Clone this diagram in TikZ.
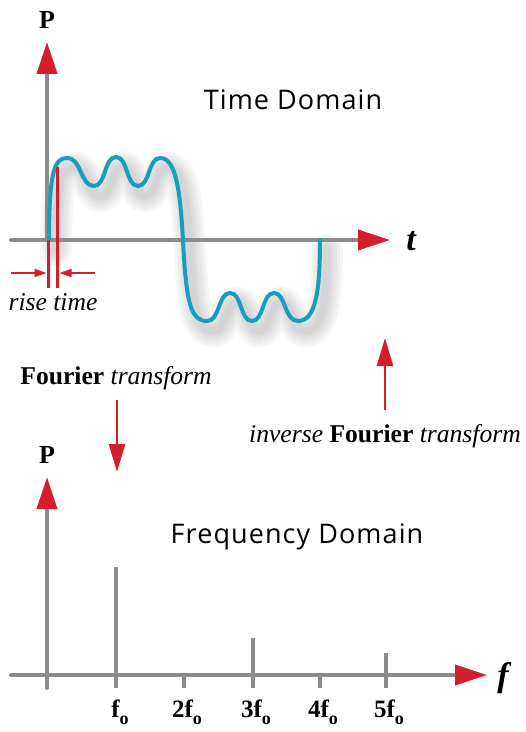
\documentclass[tikz,border=0pt]{standalone}
\usepackage{fontspec}
\setmainfont{Liberation Serif}
\setsansfont{Open Sans}
\newfontfamily\domfont[LetterSpace=4]{Open Sans}
\usetikzlibrary{arrows.meta}
\definecolor{axisgray}{RGB}{140,140,140}
\definecolor{tipred}{RGB}{214,30,42}
\definecolor{wavecyan}{RGB}{22,158,190}
\newcommand{\fsub}{f\raisebox{-3.5pt}{\fontsize{9}{9}\selectfont o}}
% square-ish wave with ringing, pixel coordinates
\newcommand{\wavepath}{(49,240) .. controls (49,170) and (55,158) .. (67,158)
  .. controls (82,158) and (80,186) .. (94,186)
  .. controls (106,186) and (104,157) .. (116,157)
  .. controls (128,157) and (126,186) .. (138,186)
  .. controls (150,186) and (148,158) .. (160,158)
  .. controls (176,158) and (180,190) .. (183,240)
  .. controls (186,300) and (190,321) .. (207,321)
  .. controls (220,321) and (218,293) .. (230,293)
  .. controls (242,293) and (240,321) .. (252,321)
  .. controls (264,321) and (262,293) .. (274,293)
  .. controls (286,293) and (284,321) .. (298,321)
  .. controls (316,321) and (320,290) .. (320,240)}

\begin{document}
\begin{tikzpicture}[x=0.5pt, y=-0.5pt, every node/.style={inner sep=0pt},
  axis/.style={draw=axisgray, line width=2pt, line cap=round, -{Triangle[length=16pt,width=10pt,color=tipred]}},
  bar/.style={draw=axisgray, line width=2pt},
  wave/.style={draw=wavecyan, line width=2pt, line cap=round},
  shade/.style={draw=black, line width=#1, opacity=0.035, line cap=round},
  redline/.style={draw=tipred, line width=1.1pt},
  redarr/.style={draw=tipred, line width=0.8pt, -{Triangle[length=6pt,width=4pt,color=tipred]}},
  trarr/.style={draw=tipred, line width=1.3pt, -{Triangle[length=14pt,width=8pt,color=tipred]}},
  dom/.style={font=\domfont\fontsize{13.5}{15}\selectfont},
  lbl/.style={font=\fontsize{12.8}{15}\selectfont},
  axlbl/.style={font=\fontsize{17}{18}\selectfont\bfseries\itshape},
  plbl/.style={font=\fontsize{13}{15}\selectfont\bfseries},
  tick/.style={font=\fontsize{12.5}{14}\selectfont\bfseries}]
\useasboundingbox (0,0) rectangle (525,732);

% time domain
\coordinate (tO) at (47,240);
\coordinate (tYtip) at (47,42);
\coordinate (tXl) at (11,240);
\coordinate (tXtip) at (390,240);
\node[plbl] (tP) at (47,20) {P};
\node[dom] (tdom) at (293,100) {Time Domain};
\node[axlbl, anchor=west] (tt) at (406,241) {t};
\foreach \w in {16pt,13pt,10pt,7pt,4pt}
  \draw[shade=\w, shift={(7,10)}] \wavepath;
\draw[axis] (tO) -- (tYtip);
\draw[axis] (tXl) -- (tXtip);
\draw[wave] \wavepath;

% rise time
\coordinate (r1t) at (48.5,240);
\coordinate (r1b) at (48.5,288);
\coordinate (r2t) at (57.5,167);
\coordinate (r2b) at (57.5,288);
\coordinate (ra1) at (11,273);
\coordinate (ra1e) at (46.5,273);
\coordinate (ra2) at (95,273);
\coordinate (ra2e) at (59.5,273);
\draw[redline] (r1t) -- (r1b);
\draw[redline] (r2t) -- (r2b);
\draw[redarr] (ra1) -- (ra1e);
\draw[redarr] (ra2) -- (ra2e);
\node[lbl] (rise) at (53,302) {\textit{rise time}};

% transforms
\node[lbl] (ft) at (116,378) {\textbf{Fourier} \textit{transform}};
\node[lbl] (ift) at (385,436) {\textit{inverse} \textbf{Fourier} \textit{transform}};
\coordinate (ftA) at (117,400);
\coordinate (ftB) at (117,472);
\coordinate (iftA) at (385,410);
\coordinate (iftB) at (385,338);
\draw[trarr] (ftA) -- (ftB);
\draw[trarr] (iftA) -- (iftB);

% frequency domain
\coordinate (fO) at (47,688);
\coordinate (fYtip) at (47,477);
\coordinate (fXl) at (11,675);
\coordinate (fXtip) at (487,675);
\node[plbl] (fP) at (47,455) {P};
\node[dom] (fdom) at (297,537) {Frequency Domain};
\node[axlbl, anchor=west] (ff) at (497,678) {f};
\draw[axis] (fO) -- (fYtip);
\draw[axis] (fXl) -- (fXtip);
\coordinate (s1) at (116,567);
\coordinate (s2) at (184,676);
\coordinate (s3) at (253,638);
\coordinate (s4) at (320,676);
\coordinate (s5) at (386,653);
\draw[bar] (s1) -- (116,688);
\draw[bar] (s2) -- (184,688);
\draw[bar] (s3) -- (253,688);
\draw[bar] (s4) -- (320,688);
\draw[bar] (s5) -- (386,688);
\node[tick] (l1) at (120,712) {\fsub};
\node[tick] (l2) at (187,712) {2\fsub};
\node[tick] (l3) at (256,712) {3\fsub};
\node[tick] (l4) at (323,712) {4\fsub};
\node[tick] (l5) at (389,712) {5\fsub};
\end{tikzpicture}
\end{document}
